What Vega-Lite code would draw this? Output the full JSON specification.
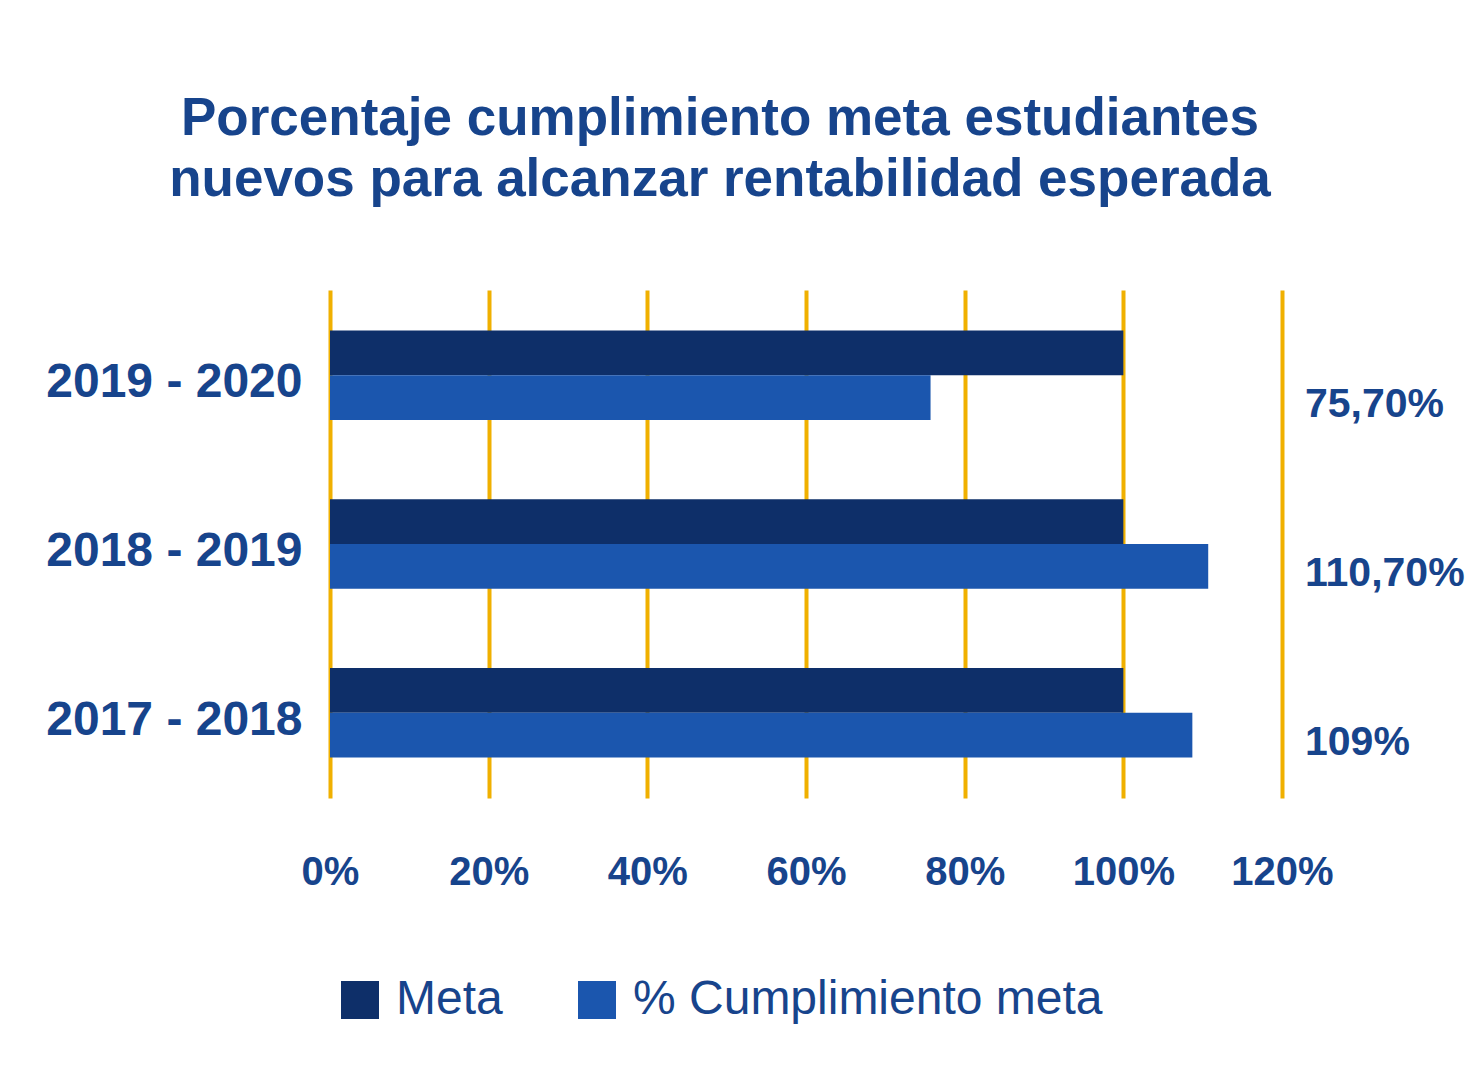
{
  "$schema": "https://vega.github.io/schema/vega-lite/v6.json",
  "autosize": {"type": "none"},
  "width": 952,
  "height": 508,
  "padding": {"left": 330, "top": 290, "right": 196, "bottom": 292},
  "background": "white",
  "config": {
    "view": {"stroke": null},
    "font": "Liberation Sans"
  },
  "title": {
    "text": ["Porcentaje cumplimiento meta estudiantes", "nuevos para alcanzar rentabilidad esperada"],
    "fontSize": 53,
    "fontWeight": "bold",
    "color": "#17448c",
    "lineHeight": 61,
    "anchor": "middle",
    "dx": -86,
    "offset": 83,
    "font": "Liberation Sans"
  },
  "data": {
    "values": [
      {"year": "2019 - 2020", "serie": "Meta", "value": 1.0, "label": ""},
      {"year": "2019 - 2020", "serie": "% Cumplimiento meta", "value": 0.757, "label": "75,70%"},
      {"year": "2018 - 2019", "serie": "Meta", "value": 1.0, "label": ""},
      {"year": "2018 - 2019", "serie": "% Cumplimiento meta", "value": 1.107, "label": "110,70%"},
      {"year": "2017 - 2018", "serie": "Meta", "value": 1.0, "label": ""},
      {"year": "2017 - 2018", "serie": "% Cumplimiento meta", "value": 1.087, "label": "109%"}
    ]
  },
  "encoding": {
    "y": {
      "field": "year",
      "type": "nominal",
      "sort": ["2019 - 2020", "2018 - 2019", "2017 - 2018"],
      "scale": {"paddingInner": 0.47, "paddingOuter": 0.24},
      "axis": {
        "title": null,
        "domain": false,
        "ticks": false,
        "labelFontSize": 48,
        "labelFontWeight": "bold",
        "labelColor": "#17448c",
        "labelPadding": 28,
        "labelOffset": 8,
        "labelLimit": 500,
        "labelFont": "Liberation Sans"
      }
    }
  },
  "layer": [
    {
      "mark": {"type": "bar"},
      "encoding": {
        "x": {
          "field": "value",
          "type": "quantitative",
          "scale": {"domain": [0, 1.2], "nice": false},
          "axis": {
            "title": null,
            "format": ".0%",
            "values": [0, 0.2, 0.4, 0.6, 0.8, 1.0, 1.2],
            "domain": false,
            "ticks": false,
            "grid": true,
            "gridColor": "#f0b000",
            "gridWidth": 4,
            "gridOpacity": 1,
            "labelFontSize": 40,
            "labelFontWeight": "bold",
            "labelColor": "#17448c",
            "labelPadding": 54,
            "labelFlush": false,
            "labelFont": "Liberation Sans"
          }
        },
        "yOffset": {
          "field": "serie",
          "type": "nominal",
          "sort": ["Meta", "% Cumplimiento meta"],
          "scale": {"paddingInner": 0, "paddingOuter": 0}
        },
        "color": {
          "field": "serie",
          "type": "nominal",
          "sort": ["Meta", "% Cumplimiento meta"],
          "scale": {"domain": ["Meta", "% Cumplimiento meta"], "range": ["#0e2f69", "#1b56ae"]},
          "legend": {
            "title": null,
            "orient": "none",
            "legendX": 6,
            "legendY": 686,
            "direction": "horizontal",
            "symbolType": "square",
            "symbolSize": 1444,
            "symbolStrokeWidth": 0,
            "labelFontSize": 48,
            "labelColor": "#17448c",
            "labelFont": "Liberation Sans",
            "labelOffset": 12,
            "columnPadding": 70,
            "labelLimit": 600
          }
        }
      }
    },
    {
      "transform": [{"filter": "datum.label != ''"}],
      "mark": {
        "type": "text",
        "align": "left",
        "baseline": "middle",
        "dy": 30,
        "fontSize": 41,
        "fontWeight": "bold",
        "color": "#17448c",
        "font": "Liberation Sans"
      },
      "encoding": {
        "x": {"datum": 1.229, "type": "quantitative"},
        "text": {"field": "label"}
      }
    }
  ]
}
